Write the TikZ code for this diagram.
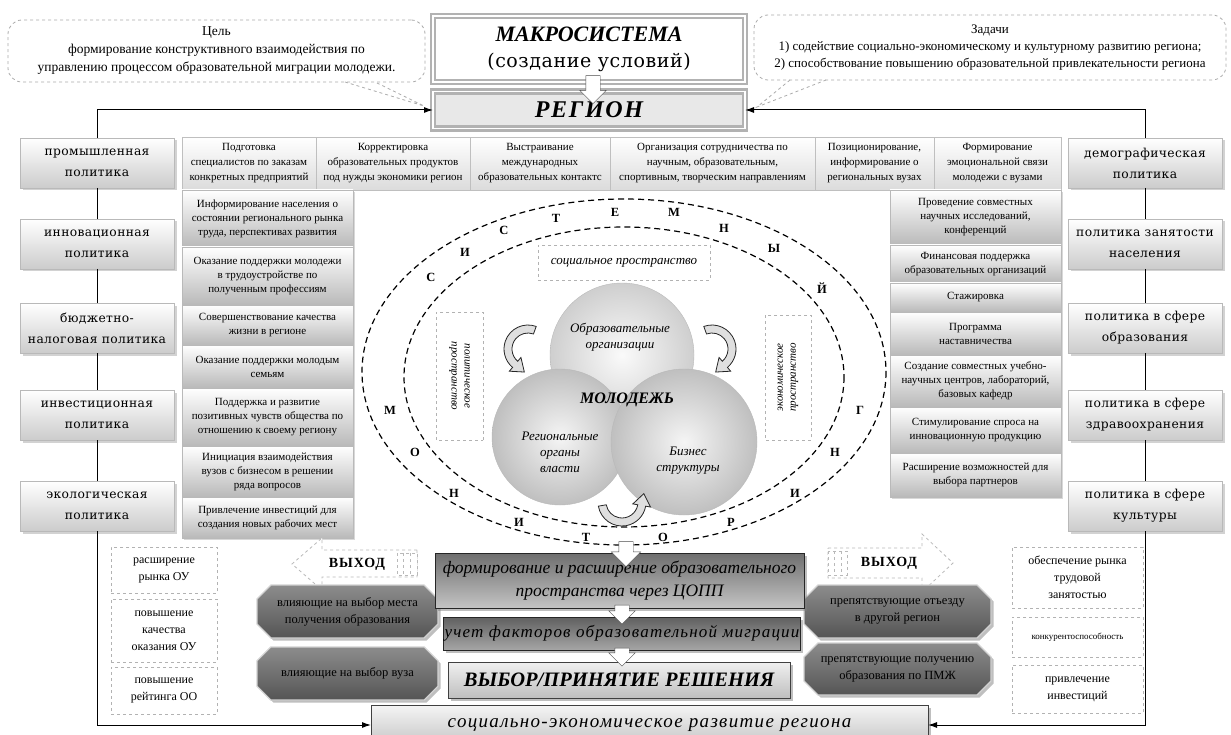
\documentclass[tikz,border=0pt]{standalone}
\usepackage{fontspec}
\setmainfont{Liberation Serif}
\newfontfamily\widefont{DejaVu Serif}[LetterSpace=3.0]
\newfontfamily\spacedfont{Liberation Serif}[LetterSpace=7.0]
\usetikzlibrary{shapes.misc, shapes.arrows, arrows.meta, positioning, shadows}

\definecolor{plaquetop}{HTML}{8C8C8C}
\definecolor{plaquebot}{HTML}{555555}
\definecolor{boxdark}{HTML}{6E6E6E}
\definecolor{boxlight}{HTML}{C4C4C4}

% hollow bent arrow: options, start angle, end angle
\newcommand{\bendarrow}[3]{%
  \draw[bendstyle, #1] (#2:24) arc[start angle=#2, end angle=#3, radius=24]
    -- (#3:29) -- ({20*cos(#3)+12*sin(#3)}, {20*sin(#3)-12*cos(#3)}) -- (#3:11) -- (#3:16)
    arc[start angle=#3, end angle=#2, radius=16] -- cycle;}

\begin{document}
\begin{tikzpicture}[x=1pt, y=-1pt,
  >={Latex[length=9pt, width=6pt]},
  every node/.style={outer sep=0pt},
  frame/.style={draw=gray!60, line width=2.4pt, double=white, double distance=1.6pt, minimum width=312pt, align=center},
  callout/.style={draw=gray!65, dashed, line width=0.8pt, rounded corners=14pt, align=center, font={\fontsize{13.5}{18}\selectfont}},
  tail/.style={draw=gray!65, dashed, line width=0.8pt},
  downarrow/.style={single arrow, shape border rotate=270, draw=gray!60!black, fill=white, inner xsep=7pt, inner ysep=0pt, single arrow head extend=6pt},
  polbox/.style={draw=gray!55, top color=white, bottom color=gray!40, minimum width=154pt, minimum height=50pt, inner sep=2pt, align=center, font={\fontsize{12.3}{21}\selectfont\widefont}, drop shadow={shadow xshift=2.5pt, shadow yshift=-2.5pt, opacity=0.35}},
  rowbox/.style={draw=gray!50, top color=white, bottom color=gray!28, minimum height=53pt, inner sep=1pt, align=center, font={\fontsize{11}{15}\selectfont}},
  colbox/.style={draw=gray!55, top color=white, bottom color=gray!55, minimum width=171pt, inner sep=1pt, align=center, font={\fontsize{11}{14}\selectfont}, drop shadow={shadow xshift=2pt, shadow yshift=-2pt, opacity=0.3}},
  outbox/.style={draw=gray!60, dashed, line width=0.7pt, inner sep=1pt, align=center, font={\fontsize{12}{17}\selectfont}},
  plaque/.style={chamfered rectangle, chamfered rectangle xsep=7pt, chamfered rectangle ysep=7pt, draw=gray!35, line width=1.2pt, top color=plaquetop, bottom color=plaquebot, inner sep=1pt, align=center, font={\fontsize{12.5}{17}\selectfont}, drop shadow={shadow xshift=2.5pt, shadow yshift=-2.5pt, opacity=0.5}},
  darkbox/.style={draw=gray!30!black, top color=boxdark, bottom color=boxlight, inner sep=1pt, align=center, drop shadow={shadow xshift=2.5pt, shadow yshift=-2.5pt, opacity=0.5}},
  lightbox/.style={draw=gray!50!black, top color=gray!12, bottom color=gray!50, inner sep=1pt, align=center, drop shadow={shadow xshift=2.5pt, shadow yshift=-2.5pt, opacity=0.5}},
  dashbox/.style={draw=gray!60, dashed, line width=0.8pt, inner sep=1pt, align=center, font={\fontsize{13}{15}\selectfont\itshape}},
  ring/.style={draw=black, line width=1.2pt, dash pattern=on 6pt off 4pt},
  letter/.style={font={\fontsize{12.5}{12.5}\selectfont\bfseries}},
  sphere/.style={circle, draw=gray!55, inner color=gray!8, outer color=gray!50},
  intext/.style={align=center, font={\fontsize{13}{16}\selectfont\itshape}},
  bendstyle/.style={draw=gray!30!black, fill=gray!25, line width=0.8pt},
  exitline/.style={draw=gray!55, dashed, line width=0.8pt, fill=white},
  exittext/.style={font={\fontsize{14}{14}\selectfont\bfseries\spacedfont}},
]
\useasboundingbox[fill=white] (0,0) rectangle (1231,735);

% top: macrosystem and region
\node[frame, fill=white, minimum height=66pt, font={\fontsize{22}{26}\selectfont}] (macro) at (589,49) {\textbf{\textit{МАКРОСИСТЕМА}}\\{\widefont\fontsize{19}{24}\selectfont(создание условий)}};
\node[frame, fill=gray!18, minimum height=37pt, font={\fontsize{24}{26}\selectfont\spacedfont\bfseries\itshape}] (region) at (589,110) {РЕГИОН};
\node[downarrow, minimum height=28pt] (macroarrow) at (593,86) {};

% goal and tasks
\node[callout, minimum width=417pt, minimum height=62pt] (goal) at (216.5,51) {Цель\\формирование конструктивного взаимодействия по\\управлению процессом образовательной миграции молодежи.};
\node[callout, minimum width=472pt, minimum height=65pt, font={\fontsize{13}{17}\selectfont}] (tasks) at (990,47.5) {Задачи\\1) содействие социально-экономическому и культурному развитию региона;\\2) способствование повышению образовательной привлекательности региона};
\coordinate (goaltip) at (424,106);
\coordinate (taskstip) at (757,107);
\draw[tail] ([xshift=-80pt]goal.south east) -- (goaltip) -- ([xshift=-50pt]goal.south east);
\draw[tail] ([xshift=36pt]tasks.south west) -- (taskstip) -- ([xshift=72pt]tasks.south west);

% policies
\node[polbox] (lp1) at (97,163) {промышленная\\политика};
\node[polbox] (lp2) at (97,244) {инновационная\\политика};
\node[polbox] (lp3) at (97,328) {бюджетно-\\налоговая политика};
\node[polbox] (lp4) at (97,415) {инвестиционная\\политика};
\node[polbox] (lp5) at (97,506) {экологическая\\политика};
\node[polbox] (rp1) at (1145,163) {демографическая\\политика};
\node[polbox] (rp2) at (1145,244) {политика занятости\\населения};
\node[polbox] (rp3) at (1145,328) {политика в сфере\\образования};
\node[polbox] (rp4) at (1145,415) {политика в сфере\\здравоохранения};
\node[polbox] (rp5) at (1145,506) {политика в сфере\\культуры};

% top row of measures
\node[rowbox, minimum width=134pt, anchor=north west] (t1) at (182,137) {Подготовка\\специалистов по заказам\\конкретных предприятий};
\node[rowbox, minimum width=154pt, right=0pt of t1] (t2) {Корректировка\\образовательных продуктов\\под нужды экономики регион};
\node[rowbox, minimum width=140pt, right=0pt of t2] (t3) {Выстраивание\\международных\\образовательных контактс};
\node[rowbox, minimum width=205pt, right=0pt of t3] (t4) {Организация сотрудничества по\\научным, образовательным,\\спортивным, творческим направлениям};
\node[rowbox, minimum width=119pt, right=0pt of t4] (t5) {Позиционирование,\\информирование о\\региональных вузах};
\node[rowbox, minimum width=127pt, right=0pt of t5] (t6) {Формирование\\эмоциональной связи\\молодежи с вузами};

% left column of measures
\node[colbox, minimum height=57pt, anchor=north] (li1) at (267.5,190) {Информирование населения о\\состоянии регионального рынка\\труда, перспективах развития};
\node[colbox, minimum height=58pt, below=0pt of li1] (li2) {Оказание поддержки молодежи\\в трудоустройстве по\\полученным профессиям};
\node[colbox, minimum height=40pt, below=0pt of li2] (li3) {Совершенствование качества\\жизни в регионе};
\node[colbox, minimum height=43pt, below=0pt of li3] (li4) {Оказание поддержки молодым\\семьям};
\node[colbox, minimum height=58pt, below=0pt of li4] (li5) {Поддержка и развитие\\позитивных чувств общества по\\отношению к своему региону};
\node[colbox, minimum height=51pt, below=0pt of li5] (li6) {Инициация взаимодействия\\вузов с бизнесом в решении\\ряда вопросов};
\node[colbox, minimum height=41pt, below=0pt of li6] (li7) {Привлечение инвестиций для\\создания новых рабочих мест};

% right column of measures
\node[colbox, minimum height=55pt, anchor=north] (ri1) at (975.5,190) {Проведение совместных\\научных исследований,\\конференций};
\node[colbox, minimum height=38pt, below=0pt of ri1] (ri2) {Финансовая поддержка\\образовательных организаций};
\node[colbox, minimum height=29pt, below=0pt of ri2] (ri3) {Стажировка};
\node[colbox, minimum height=43pt, below=0pt of ri3] (ri4) {Программа\\наставничества};
\node[colbox, minimum height=52pt, below=0pt of ri4] (ri5) {Создание совместных учебно-\\научных центров, лабораторий,\\базовых кафедр};
\node[colbox, minimum height=46pt, below=0pt of ri5] (ri6) {Стимулирование спроса на\\инновационную продукцию};
\node[colbox, minimum height=44pt, below=0pt of ri6] (ri7) {Расширение возможностей для\\выбора партнеров};

% monitoring rings
\draw[ring] (624,372) ellipse[x radius=262, y radius=173];
\draw[ring] (624,377) ellipse[x radius=220, y radius=150];
\foreach \ch/\px/\py [count=\k] in {С/431/277, И/465/252, С/504/230, Т/556/218, Е/615/212, М/674/212, Н/724/228, Ы/774/248, Й/822/288,
    М/390/410, О/415/452, Н/454/493, И/519/522, Т/586/537, О/663/537, Р/731/522, И/795/493, Н/835/452, Г/860/410}
  \node[letter] (ltr\k) at (\px,\py) {\ch};

% spaces
\node[dashbox, minimum width=172pt, minimum height=35pt] (social) at (624,262.5) {социальное пространство};
\node[dashbox, rotate=-90, minimum width=128pt, minimum height=47pt, font={\fontsize{11}{13}\selectfont\itshape}] (polit) at (459.5,376) {политическое\\пространство};
\node[dashbox, rotate=90, minimum width=125pt, minimum height=46pt, font={\fontsize{11}{13}\selectfont\itshape}] (econ) at (788,377.5) {экономическое\\пространство};

% actors
\node[sphere, minimum size=144pt, inner color=gray!4, outer color=gray!38] (edu) at (622,355) {};
\node[sphere, minimum size=136pt] (gov) at (560,437) {};
\node[sphere, minimum size=146pt] (biz) at (684,442) {};
\node[intext] (edutext) at (620,337) {Образовательные\\организации};
\node[intext] (govtext) at (560,452) {Региональные\\органы\\власти};
\node[intext] (biztext) at (688,461) {Бизнес\\структуры};
\node[font={\fontsize{16}{16}\selectfont\bfseries\itshape}] (youth) at (627,400) {МОЛОДЕЖЬ};

\bendarrow{shift={(528,349)}}{290}{130}
\bendarrow{shift={(712,349)}, xscale=-1}{290}{130}
\bendarrow{shift={(622,502)}}{170}{10}

% outputs
\draw[exitline] (417,550) -- (322,550) -- (322,538) -- (292,564) -- (322,590) -- (322,577) -- (417,577) -- cycle;
\draw[exitline] (397,553) rectangle (417,575);
\draw[exitline] (403,553) -- (403,575) (410,553) -- (410,575);
\node[exittext] (exitL) at (357,564) {ВЫХОД};
\draw[exitline] (828,548) -- (922,548) -- (922,534) -- (953,563) -- (922,592) -- (922,578) -- (828,578) -- cycle;
\draw[exitline] (828,551) rectangle (847,575);
\draw[exitline] (834,551) -- (834,575) (841,551) -- (841,575);
\node[exittext] (exitR) at (889,563) {ВЫХОД};

\node[outbox, minimum width=106pt, minimum height=46pt] (lo1) at (164,570) {расширение\\рынка ОУ};
\node[outbox, minimum width=106pt, minimum height=63pt] (lo2) at (164,630.5) {повышение\\качества\\оказания ОУ};
\node[outbox, minimum width=106pt, minimum height=47pt] (lo3) at (164,690.5) {повышение\\рейтинга ОО};
\node[outbox, minimum width=131pt, minimum height=61pt] (ro1) at (1077.5,577.5) {обеспечение рынка\\трудовой\\занятостью};
\node[outbox, minimum width=131pt, minimum height=40pt, font={\fontsize{9}{11}\selectfont}] (ro2) at (1077.5,637) {конкурентоспособность};
\node[outbox, minimum width=131pt, minimum height=48pt] (ro3) at (1077.5,689) {привлечение\\инвестиций};

% factors
\node[plaque, minimum width=181pt, minimum height=53pt] (pl1) at (347.5,611.5) {влияющие на выбор места\\получения образования};
\node[plaque, minimum width=181pt, minimum height=53pt] (pl2) at (347.5,673.5) {влияющие на выбор вуза};
\node[plaque, minimum width=187pt, minimum height=53pt] (pr1) at (897.5,611.5) {препятствующие отъезду\\в другой регион};
\node[plaque, minimum width=187pt, minimum height=52pt] (pr2) at (897.5,669) {препятствующие получению\\образования по ПМЖ};

% decision chain
\node[darkbox, minimum width=369pt, minimum height=55pt, font={\fontsize{17.5}{23}\selectfont\itshape}] (space) at (619.5,580.5) {формирование и расширение образовательного\\пространства через ЦОПП};
\node[darkbox, minimum width=348pt, minimum height=33pt, top color=gray!75!black, bottom color=gray!70, font={\fontsize{17}{20}\selectfont\spacedfont\itshape}] (factors) at (622,633.5) {учет факторов образовательной миграции};
\node[lightbox, minimum width=342pt, minimum height=36pt, font={\fontsize{20.5}{24}\selectfont\bfseries\itshape}] (choice) at (619,680) {ВЫБОР/ПРИНЯТИЕ РЕШЕНИЯ};
\node[lightbox, minimum width=557pt, minimum height=40pt, top color=gray!8, bottom color=gray!45, font={\fontsize{19}{22}\selectfont\spacedfont\itshape}] (soc) at (649.5,725) {социально-экономическое развитие региона};

\node[downarrow, minimum height=25pt, single arrow head extend=7.5pt] (ringarrow) at (626,550.5) {};
\node[downarrow, minimum height=19pt] (spacearrow) at (622,611) {};
\node[downarrow, minimum height=18pt] (factorarrow) at (622,653.5) {};

% links
\draw[->, line width=1pt] (lp1.north) |- (region.west);
\draw[->, line width=1pt] (rp1.north) |- (region.east);
\draw[line width=1pt] (lp1) -- (lp2);
\draw[line width=1pt] (lp2) -- (lp3);
\draw[line width=1pt] (lp3) -- (lp4);
\draw[line width=1pt] (lp4) -- (lp5);
\draw[line width=1pt] (rp1) -- (rp2);
\draw[line width=1pt] (rp2) -- (rp3);
\draw[line width=1pt] (rp3) -- (rp4);
\draw[line width=1pt] (rp4) -- (rp5);
\draw[->, line width=1pt] (lp5.south) |- (soc.west);
\draw[->, line width=1pt] (rp5.south) |- (soc.east);
\end{tikzpicture}
\end{document}
